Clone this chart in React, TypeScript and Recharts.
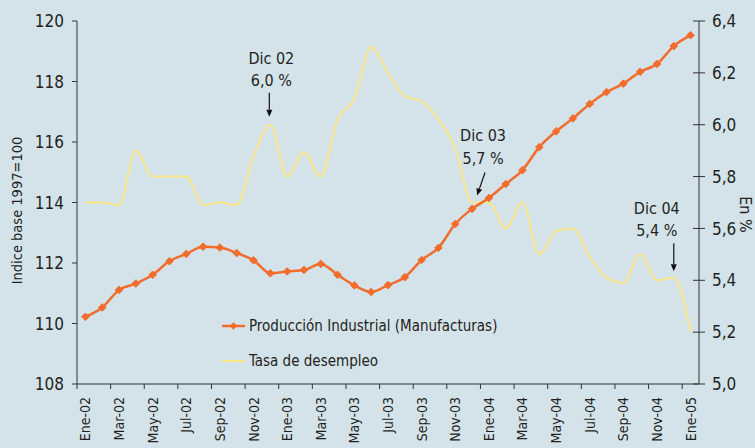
import { LineChart, Line, XAxis, YAxis, Legend, ReferenceDot } from "recharts";

document.body.style.margin = "0";

const FONT = '"Liberation Sans Narrow", "Arial Narrow", "DejaVu Sans Condensed", sans-serif';
const TEXT = "#231f20";
const ORANGE = "#f26c2b";
const YELLOW = "#fbe78a";

// meses Ene-02 .. Ene-05
const months = [
  "Ene-02", "Feb-02", "Mar-02", "Abr-02", "May-02", "Jun-02", "Jul-02", "Ago-02", "Sep-02", "Oct-02", "Nov-02", "Dic-02",
  "Ene-03", "Feb-03", "Mar-03", "Abr-03", "May-03", "Jun-03", "Jul-03", "Ago-03", "Sep-03", "Oct-03", "Nov-03", "Dic-03",
  "Ene-04", "Feb-04", "Mar-04", "Abr-04", "May-04", "Jun-04", "Jul-04", "Ago-04", "Sep-04", "Oct-04", "Nov-04", "Dic-04",
  "Ene-05",
];

// Producción Industrial (Manufacturas), índice base 1997=100
const produccion = [
  110.22, 110.53, 111.11, 111.32, 111.61, 112.06, 112.3, 112.54, 112.51, 112.33, 112.09, 111.66,
  111.72, 111.77, 111.97, 111.61, 111.26, 111.04, 111.27, 111.53, 112.1, 112.5, 113.29, 113.79,
  114.15, 114.61, 115.07, 115.83, 116.35, 116.78, 117.26, 117.65, 117.93, 118.32, 118.58, 119.17,
  119.53,
];

// Tasa de desempleo, en %
const desempleo = [
  5.7, 5.7, 5.69, 5.9, 5.8, 5.8, 5.8, 5.69, 5.7, 5.69, 5.88, 6.0,
  5.8, 5.895, 5.8, 6.02, 6.1, 6.3, 6.2, 6.11, 6.09, 6.02, 5.91, 5.7,
  5.7, 5.6, 5.7, 5.5, 5.59, 5.6, 5.49, 5.41, 5.39, 5.5, 5.4, 5.41,
  5.2,
];

const leftTicks = [108, 110, 112, 114, 116, 118, 120];
const rightTicks = [5.0, 5.2, 5.4, 5.6, 5.8, 6.0, 6.2, 6.4];

const annotations = [
  { month: "Dic-02", value: 6.0, lines: ["Dic 02", "6,0 %"] },
  { month: "Dic-03", value: 5.7, lines: ["Dic 03", "5,7 %"] },
  { month: "Dic-04", value: 5.4, lines: ["Dic 04", "5,4 %"] },
];

// text/arrow offsets for each annotation (relative to the point)
const annoLayout = [
  { tx: 1, ty: [-61, -39], from: [-1, -32], to: [-1, -8] },
  { tx: 11, ty: [-62, -39], from: [13, -30], to: [5, -7] },
  { tx: -17, ty: [-66, -44], from: [0, -37], to: [0, -9] },
];

const data = months.map((m, i) => ({
  mes: m,
  produccion: produccion[i],
  desempleo: desempleo[i],
}));

const W = 755;
const H = 448;
const margin = { top: 21, right: 0, bottom: 0, left: 0 };
const LEFT_W = 77;
const RIGHT_W = 56;
const BAND = (W - LEFT_W - RIGHT_W) / months.length;

const XTick = (props: any) => {
  const { x, y, payload } = props;
  const lx = x - BAND / 2;
  return (
    <g>
      <line x1={lx} y1={y} x2={lx} y2={y + 5} stroke="#333" strokeWidth={1} />
      <text
        x={x}
        y={y + 13}
        transform={`rotate(-90 ${x} ${y + 13})`}
        textAnchor="end"
        dominantBaseline="central"
        fill={TEXT}
        fontSize={14}
        fontFamily={FONT}
      >
        {payload.value}
      </text>
    </g>
  );
};

const RightTick = (props: any) => {
  const { x, y, payload } = props;
  return (
    <g>
      <line x1={x - 19} y1={y} x2={x - 7} y2={y} stroke="#333" strokeWidth={1} />
      <text x={x} y={y} dy="0.36em" textAnchor="start" fill={TEXT} fontSize={17} fontFamily={FONT}>
        {payload.value.toFixed(1).replace(".", ",")}
      </text>
    </g>
  );
};

const OrangeDot = (props: any) => {
  const { cx, cy } = props;
  if (cx == null || cy == null) return null;
  return (
    <path
      d={`M${cx},${cy - 3.8} L${cx + 3.8},${cy} L${cx},${cy + 3.8} L${cx - 3.8},${cy} Z`}
      fill={ORANGE}
      stroke={ORANGE}
      strokeWidth={1}
    />
  );
};

const makeAnno = (idx: number) => (props: any) => {
  const { cx, cy } = props;
  const a = annotations[idx];
  const l = annoLayout[idx];
  const x1 = cx + l.from[0];
  const y1 = cy + l.from[1];
  const x2 = cx + l.to[0];
  const y2 = cy + l.to[1];
  const ang = Math.atan2(y2 - y1, x2 - x1);
  const hl = 7;
  const hw = 3;
  const bx = x2 - hl * Math.cos(ang);
  const by = y2 - hl * Math.sin(ang);
  const px = -Math.sin(ang) * hw;
  const py = Math.cos(ang) * hw;
  return (
    <g>
      {a.lines.map((t, k) => (
        <text
          key={k}
          x={cx + l.tx}
          y={cy + l.ty[k]}
          textAnchor="middle"
          fill={TEXT}
          fontSize={16}
          fontFamily={FONT}
        >
          {t}
        </text>
      ))}
      <line x1={x1} y1={y1} x2={bx} y2={by} stroke="#111" strokeWidth={1.2} />
      <polygon points={`${x2},${y2} ${bx + px},${by + py} ${bx - px},${by - py}`} fill="#111" />
    </g>
  );
};

const renderLegend = () => (
  <div style={{ fontFamily: FONT, fontSize: 15, color: TEXT, whiteSpace: "nowrap" }}>
    <div style={{ display: "flex", alignItems: "center", height: 20 }}>
      <svg width={27} height={20}>
        <line x1={0} y1={10} x2={23} y2={10} stroke={ORANGE} strokeWidth={2.5} />
        <path d="M11.5,6.2 L15.3,10 L11.5,13.8 L7.7,10 Z" fill={ORANGE} />
      </svg>
      <span>Producción Industrial (Manufacturas)</span>
    </div>
    <div style={{ display: "flex", alignItems: "center", height: 20, marginTop: 15 }}>
      <svg width={27} height={20}>
        <line x1={0} y1={10} x2={23} y2={10} stroke={YELLOW} strokeWidth={2} />
      </svg>
      <span>Tasa de desempleo</span>
    </div>
  </div>
);

export default function App() {
  return (
    <div style={{ width: W, height: H, background: "#d4e3ea" }}>
      <LineChart width={W} height={H} data={data} margin={margin}>
        <XAxis
          dataKey="mes"
          scale="band"
          interval={1}
          tickSize={0}
          tickMargin={0}
          tickLine={false}
          stroke="#333"
          tick={<XTick />}
          height={64}
        />
        <YAxis
          yAxisId="left"
          width={LEFT_W}
          domain={[108, 120]}
          ticks={leftTicks}
          interval={0}
          tickSize={5}
          tickMargin={8}
          stroke="#333"
          tick={{ fill: TEXT, fontSize: 17, fontFamily: FONT }}
          label={({ viewBox }: any) => {
            const lx = viewBox.x + 17;
            const ly = viewBox.y + viewBox.height / 2 + 8;
            return (
              <text
                x={lx}
                y={ly}
                transform={`rotate(-90 ${lx} ${ly})`}
                textAnchor="middle"
                dominantBaseline="central"
                fill={TEXT}
                fontSize={14.5}
                fontFamily={FONT}
              >
                Indice base 1997=100
              </text>
            );
          }}
        />
        <YAxis
          yAxisId="right"
          orientation="right"
          width={RIGHT_W}
          domain={[5.0, 6.4]}
          ticks={rightTicks}
          interval={0}
          tickSize={6}
          tickMargin={7}
          tickLine={false}
          stroke="#333"
          tick={<RightTick />}
          label={({ viewBox }: any) => {
            const lx = viewBox.x + 46;
            const ly = viewBox.y + viewBox.height / 2 + 12;
            return (
              <text
                x={lx}
                y={ly}
                transform={`rotate(90 ${lx} ${ly})`}
                textAnchor="middle"
                dominantBaseline="central"
                fill={TEXT}
                fontSize={16}
                fontFamily={FONT}
              >
                En %
              </text>
            );
          }}
        />
        <Legend
          content={renderLegend}
          layout="horizontal"
          verticalAlign="middle"
          align="center"
          wrapperStyle={{ position: "absolute", left: 222, top: 316, width: 300 }}
        />
        <Line
          yAxisId="right"
          type="monotone"
          dataKey="desempleo"
          name="Tasa de desempleo"
          stroke={YELLOW}
          strokeWidth={2}
          dot={false}
          activeDot={false}
          isAnimationActive={false}
        />
        <Line
          yAxisId="left"
          type="monotone"
          dataKey="produccion"
          name="Producción Industrial (Manufacturas)"
          stroke={ORANGE}
          strokeWidth={2.5}
          dot={<OrangeDot />}
          activeDot={false}
          isAnimationActive={false}
        />
        {annotations.map((a, i) => (
          <ReferenceDot
            key={a.month}
            yAxisId="right"
            x={a.month}
            y={a.value}
            r={0}
            shape={makeAnno(i)}
          />
        ))}
      </LineChart>
    </div>
  );
}
